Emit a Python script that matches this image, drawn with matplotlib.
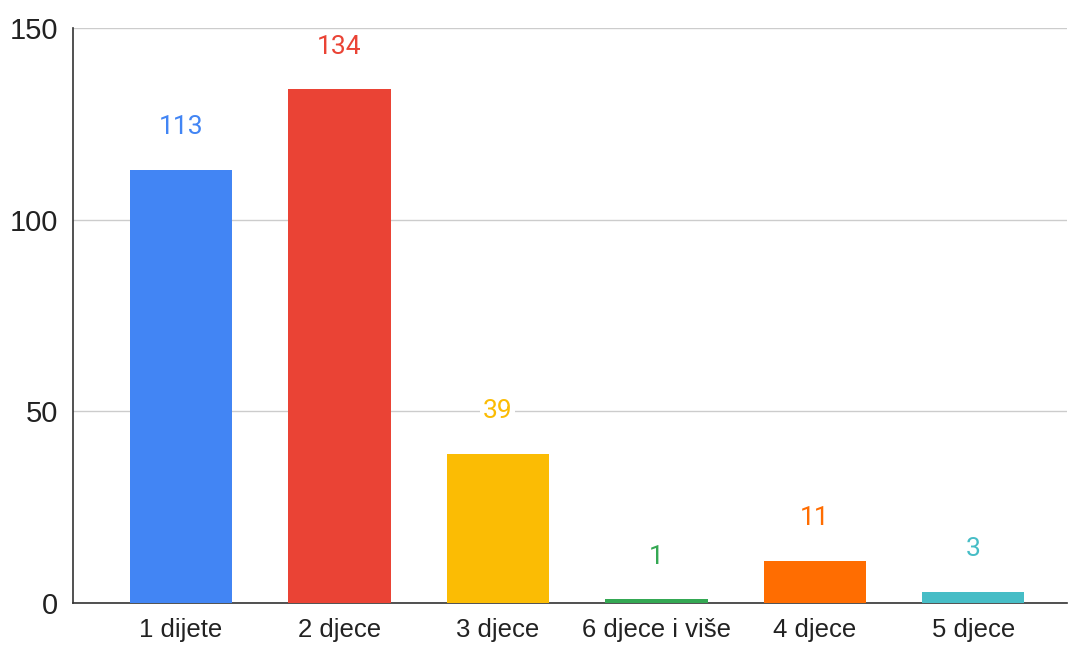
import matplotlib
matplotlib.use("Agg")
import matplotlib.pyplot as plt

categories = ["1 dijete", "2 djece", "3 djece", "6 djece i više", "4 djece", "5 djece"]
values = [113, 134, 39, 1, 11, 3]
colors = ["#4285F4", "#EA4335", "#FBBC04", "#34A853", "#FF6D01", "#46BDC6"]
yticks = [0, 50, 100, 150]

fig = plt.figure(figsize=(10.68, 6.45), dpi=100)
ax = fig.add_axes([0.0684, 0.0651, 0.931, 0.8915])
x = list(range(len(categories)))
ax.bar(x, values, width=0.645, color=colors, zorder=3)
ax.set_xlim(-0.681, 5.593)
ax.set_ylim(0, 150)
ax.set_yticks(yticks)
ax.set_yticklabels([str(t) for t in yticks], family="Liberation Sans", fontsize=21, color="#222222")
ax.set_xticks(x)
ax.set_xticklabels(categories, family="Liberation Sans", fontsize=18.5, color="#222222")
ax.tick_params(axis="y", length=0, pad=10.5)
ax.tick_params(axis="x", length=0, pad=11)
ax.grid(axis="y", color="#cccccc", linewidth=1, zorder=0)
for s in ["top", "right"]:
    ax.spines[s].set_visible(False)
ax.spines["left"].set_color("#333333")
ax.spines["bottom"].set_color("#333333")
ax.spines["left"].set_linewidth(1.2)
ax.spines["bottom"].set_linewidth(1.2)
for xi, v, c in zip(x, values, colors):
    ax.annotate(str(v), (xi, v), xytext=(0, 30.5), textcoords="offset points",
                ha="center", va="center", family="Roboto", fontsize=19, color=c,
                bbox=dict(boxstyle="square,pad=0.1", fc="white", ec="none"), zorder=4)
fig.savefig("out.png", dpi=100)
